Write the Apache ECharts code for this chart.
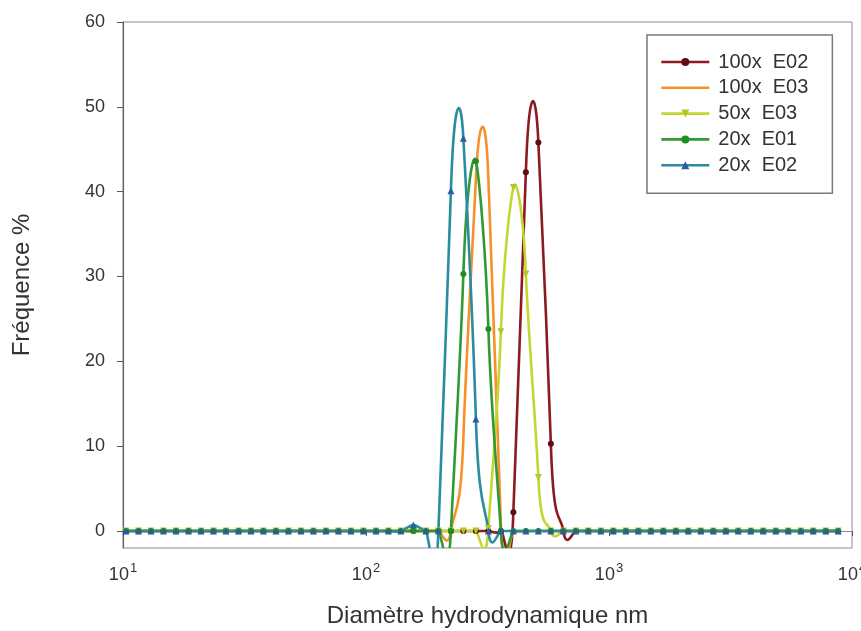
<!DOCTYPE html>
<html>
<head>
<meta charset="utf-8">
<script src="https://cdn.jsdelivr.net/npm/echarts@6/dist/echarts.min.js"></script>
<style>html,body{margin:0;padding:0;background:#fff}#c{width:861px;height:631px}</style>
</head>
<body>
<div id="c"></div>
<script>
// Diameters (nm) of the size classes
const diameters = [10.29, 11.58, 13.04, 14.68, 16.52, 18.60, 20.94, 23.57, 26.53, 29.87,
  33.62, 37.84, 42.60, 47.96, 54.00, 60.77, 68.41, 77.00, 86.70, 97.59,
  109.9, 123.7, 139.2, 156.7, 176.4, 198.6, 223.6, 251.6, 283.3, 318.9,
  358.9, 404.0, 454.9, 512.1, 576.4, 648.9, 730.4, 822.2, 925.6, 1042,
  1173, 1320, 1486, 1673, 1884, 2120, 2387, 2687, 3025, 3404,
  3832, 4314, 4856, 5467, 6153, 6927, 7797, 8777];

const seriesNames = ['100x  E02', '100x  E03', '50x  E03', '20x  E01', '20x  E02'];

// Fréquence % per class (index 0..57)
const v100xE02 = [0,0,0,0,0,0,0,0,0,0, 0,0,0,0,0,0,0,0,0,0, 0,0,0,0,0,0,0,0,0,0, 0,2.2,42.3,45.8,10.3,0,0,0,0,0, 0,0,0,0,0,0,0,0,0,0, 0,0,0,0,0,0,0,0];
const v100xE03 = [0,0,0,0,0,0,0,0,0,0, 0,0,0,0,0,0,0,0,0,0, 0,0,0,0,0,0,0,11,41.5,41.5, 1.0,0,0,0,0,0,0,0,0,0, 0,0,0,0,0,0,0,0,0,0, 0,0,0,0,0,0,0,0];
const v50xE03  = [0,0,0,0,0,0,0,0,0,0, 0,0,0,0,0,0,0,0,0,0, 0,0,0,0,0,0,0,0,0,0.3, 23.5,40.5,30.3,6.3,0,0,0,0,0,0, 0,0,0,0,0,0,0,0,0,0, 0,0,0,0,0,0,0,0];
const v20xE01  = [0,0,0,0,0,0,0,0,0,0, 0,0,0,0,0,0,0,0,0,0, 0,0,0,0,0,0,0,30.3,43.6,23.8, 0,0,0,0,0,0,0,0,0,0, 0,0,0,0,0,0,0,0,0,0, 0,0,0,0,0,0,0,0];
const v20xE02  = [0,0,0,0,0,0,0,0,0,0, 0,0,0,0,0,0,0,0,0,0, 0,0,0,0.7,0,0,40.1,46.3,13.2,0, 0,0,0,0,0,0,0,0,0,0, 0,0,0,0,0,0,0,0,0,0, 0,0,0,0,0,0,0,0];

const seriesValues = [v100xE02, v100xE03, v50xE03, v20xE01, v20xE02];

const yTickValues = [0, 10, 20, 30, 40, 50, 60];
const xTickExponents = [1, 2, 3, 4];

const lineColors = ['#8c1b20', '#f7902a', '#c6d630', '#2e9a35', '#2a8c9e'];
const markerColors = ['#5e0d12', '#f7902a', '#b3c52a', '#1f8f22', '#2a5c9e'];
const markerSymbols = ['circle', 'none', 'triangle', 'circle', 'triangle'];
const markerRotate = [0, 0, 180, 0, 0];

const SMOOTH = 0.23;

function makeCurve(idx) {
  const ys = seriesValues[idx];
  return {
    type: 'custom',
    name: 'curve' + idx,
    clip: true,
    silent: true,
    z: 2,
    data: diameters.map((d, i) => [d, ys[i]]),
    renderItem: function (params, api) {
      if (params.dataIndex !== 0) return null;
      const n = diameters.length;
      const pts = diameters.map((d, i) => api.coord([d, ys[i]]));
      let path = 'M' + pts[0][0].toFixed(2) + ' ' + pts[0][1].toFixed(2);
      for (let i = 0; i < n - 1; i++) {
        const p0 = pts[Math.max(i - 1, 0)], p1 = pts[i], p2 = pts[i + 1], p3 = pts[Math.min(i + 2, n - 1)];
        const c1x = p1[0] + SMOOTH * (p2[0] - p0[0]) * 0.5;
        const c1y = p1[1] + SMOOTH * (p2[1] - p0[1]);
        const c2x = p2[0] - SMOOTH * (p3[0] - p1[0]) * 0.5;
        const c2y = p2[1] - SMOOTH * (p3[1] - p1[1]);
        path += ' C' + c1x.toFixed(2) + ' ' + c1y.toFixed(2) + ' ' + c2x.toFixed(2) + ' ' + c2y.toFixed(2) + ' ' + p2[0].toFixed(2) + ' ' + p2[1].toFixed(2);
      }
      return {
        type: 'path',
        shape: { pathData: path },
        style: { fill: null, stroke: lineColors[idx], lineWidth: 2.6, lineJoin: 'round', lineCap: 'round' }
      };
    }
  };
}

function makeMarkers(idx) {
  const ys = seriesValues[idx];
  return {
    type: 'line',
    name: seriesNames[idx],
    z: 2,
    data: diameters.map((d, i) => [d, ys[i]]),
    symbol: markerSymbols[idx],
    symbolRotate: markerRotate[idx],
    symbolSize: markerSymbols[idx] === 'triangle' ? 7 : 6,
    showSymbol: markerSymbols[idx] !== 'none',
    showAllSymbol: true,
    color: lineColors[idx],
    itemStyle: { color: markerColors[idx] },
    lineStyle: { color: lineColors[idx], width: 2.6, opacity: 0 },
    emphasis: { disabled: true },
    silent: true,
    animation: false
  };
}

const series = [];
for (let i = 0; i < seriesNames.length; i++) {
  series.push(makeCurve(i));
  series.push(makeMarkers(i));
}

const legendData = seriesNames.map((n, i) => markerSymbols[i] === 'none'
  ? { name: n, itemStyle: { opacity: 0 } }
  : { name: n });

const chart = echarts.init(document.getElementById('c'), null, { renderer: 'canvas' });
chart.setOption({
  animation: false,
  backgroundColor: '#ffffff',
  textStyle: { fontFamily: 'Liberation Sans, Arial, sans-serif' },
  grid: { left: 123, right: 9, top: 22, bottom: 83, show: true, borderColor: '#8c8c8c', borderWidth: 1, containLabel: false, outerBoundsMode: 'none' },
  legend: {
    orient: 'vertical',
    left: 647,
    top: 35,
    padding: [17, 24, 18, 13],
    itemWidth: 48,
    itemHeight: 10,
    itemGap: 5.8,
    backgroundColor: '#ffffff',
    borderColor: '#7a7a7a',
    borderWidth: 1.5,
    borderRadius: 0,
    data: legendData,
    selectedMode: false,
    lineStyle: { opacity: 1, width: 2.6 },
    textStyle: { fontSize: 20, lineHeight: 18, color: '#333', padding: [0, 0, 0, 4], fontFamily: 'Liberation Sans, Arial, sans-serif' }
  },
  xAxis: {
    type: 'log',
    logBase: 10,
    min: 10,
    max: 10000,
    name: 'Diamètre hydrodynamique nm',
    nameLocation: 'middle',
    nameGap: 56,
    nameTextStyle: { fontSize: 24, color: '#333', fontFamily: 'Liberation Sans, Arial, sans-serif' },
    axisLine: { show: true, lineStyle: { color: '#8c8c8c', width: 1.2 } },
    axisTick: { show: true, inside: false, length: 5, lineStyle: { color: '#555' } },
    minorTick: { show: false },
    splitLine: { show: false },
    axisLabel: {
      margin: 14,
      color: '#333',
      showMaxLabel: true,
      formatter: function (v) {
        const e = Math.round(Math.log10(v));
        if (xTickExponents.indexOf(e) < 0) return '';
        return '{a|10}{b|' + e + '}';
      },
      rich: {
        a: { fontSize: 18, color: '#333', lineHeight: 22, verticalAlign: 'bottom' },
        b: { fontSize: 13, color: '#333', lineHeight: 22, verticalAlign: 'top', padding: [0, 0, 0, 1] }
      }
    }
  },
  yAxis: {
    type: 'value',
    min: -2,
    max: 60,
    name: 'Fréquence %',
    nameLocation: 'middle',
    nameGap: 89,
    nameRotate: 90,
    nameTextStyle: { fontSize: 24, color: '#333', fontFamily: 'Liberation Sans, Arial, sans-serif' },
    axisLine: { show: true, lineStyle: { color: '#666', width: 1.2 } },
    axisTick: { show: true, inside: false, length: 6, customValues: yTickValues, lineStyle: { color: '#555' } },
    splitLine: { show: false },
    axisLabel: { margin: 18, fontSize: 18, color: '#333', customValues: yTickValues }
  },
  series: series
});
</script>
</body>
</html>
